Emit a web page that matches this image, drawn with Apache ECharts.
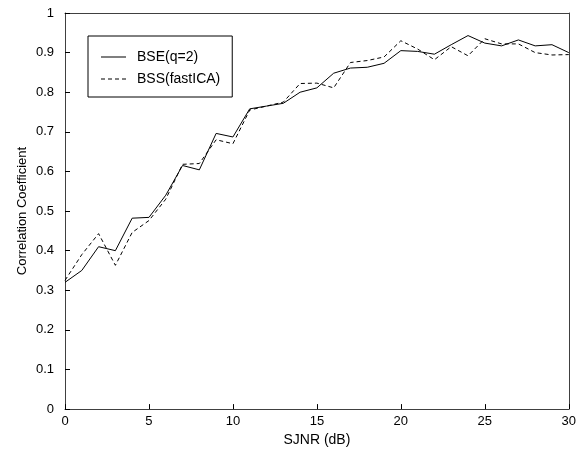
<!DOCTYPE html>
<html>
<head>
<meta charset="utf-8">
<script src="https://cdn.jsdelivr.net/npm/echarts@6/dist/echarts.min.js"></script>
<style>html,body{margin:0;padding:0;background:#fff}#c{width:579px;height:452px}</style>
</head>
<body>
<div id="c"></div>
<script>
var snr = [0,1,2,3,4,5,6,7,8,9,10,11,12,13,14,15,16,17,18,19,20,21,22,23,24,25,26,27,28,29,30];
var bse = [0.32,0.35,0.41,0.40,0.482,0.484,0.54,0.615,0.604,0.696,0.687,0.758,0.765,0.772,0.80,0.811,0.848,0.861,0.863,0.873,0.905,0.903,0.896,0.92,0.943,0.924,0.917,0.932,0.917,0.92,0.90];
var bss = [0.325,0.39,0.443,0.363,0.446,0.476,0.53,0.618,0.62,0.68,0.67,0.755,0.765,0.775,0.822,0.823,0.811,0.875,0.88,0.889,0.93,0.909,0.882,0.915,0.892,0.935,0.922,0.922,0.90,0.894,0.895];
var seriesNames = ['BSE(q=2)', 'BSS(fastICA)'];
var xName = 'SJNR (dB)';
var yName = 'Correlation Coefficient';

function pairs(xs, ys){ return xs.map(function(x,i){ return [x, ys[i]]; }); }

var solidIcon = 'path://M0,0L25,0Z M0,14L25,14Z M0,6.5h25v1h-25z';
var dashIcon = 'path://M0,0L25,0Z M0,14L25,14Z M0,6.5h4v1h-4z M7,6.5h4v1h-4z M14,6.5h4v1h-4z M21,6.5h4v1h-4z';

var chart = echarts.init(document.getElementById('c'), null, {renderer:'canvas'});
var font = 'Arial, "Liberation Sans", sans-serif';
var axisColor = '#404040';
function frameAxis(pos, isX){
  return {
    type: 'value', position: pos, min: 0, max: isX ? 30 : 1, interval: isX ? 5 : 0.1,
    axisLine: {show: true, onZero: false, lineStyle: {color: axisColor, width: 1}},
    axisTick: {show: false},
    axisLabel: {show: false},
    splitLine: {show: false}
  };
}
chart.setOption({
  animation: false,
  backgroundColor: '#fff',
  textStyle: {fontFamily: font},
  grid: {left: 65, top: 13, right: 10, bottom: 41, show: false, containLabel: false},
  legend: {
    orient: 'vertical', left: 88, top: 36,
    padding: [14, 12, 11, 13],
    borderColor: '#000', borderWidth: 1,
    itemWidth: 25, itemHeight: 14, itemGap: 8,
    textStyle: {fontFamily: font, fontSize: 14, color: '#000', padding: [0,0,0,6]},
    data: [
      {name: seriesNames[0], icon: solidIcon, itemStyle: {color: '#000', borderWidth: 0}},
      {name: seriesNames[1], icon: dashIcon, itemStyle: {color: '#000', borderWidth: 0}}
    ]
  },
  xAxis: [{
    type: 'value', position: 'bottom', min: 0, max: 30, interval: 5,
    name: xName, nameLocation: 'middle', nameGap: 22,
    nameTextStyle: {fontFamily: font, fontSize: 14, color: '#000'},
    axisLine: {show: true, onZero: false, lineStyle: {color: axisColor, width: 1}},
    axisTick: {show: true, inside: true, length: 5, lineStyle: {color: '#000', width: 1}},
    axisLabel: {fontFamily: font, fontSize: 13, color: '#000', margin: 6},
    splitLine: {show: false}
  }, frameAxis('top', true)],
  yAxis: [{
    type: 'value', position: 'left', min: 0, max: 1, interval: 0.1,
    name: yName, nameLocation: 'middle', nameGap: 36, nameMoveOverlap: false,
    nameTextStyle: {fontFamily: font, fontSize: 13, color: '#000'},
    axisLine: {show: true, onZero: false, lineStyle: {color: axisColor, width: 1}},
    axisTick: {show: true, inside: true, length: 5, lineStyle: {color: '#000', width: 1}},
    axisLabel: {fontFamily: font, fontSize: 13, color: '#000', margin: 11},
    splitLine: {show: false}
  }, frameAxis('right', false)],
  series: [
    {name: seriesNames[0], type: 'line', data: pairs(snr, bse), showSymbol: false, symbol: 'none',
     lineStyle: {color: '#000', width: 1, type: 'solid'}, itemStyle: {color: '#000'}},
    {name: seriesNames[1], type: 'line', data: pairs(snr, bss), showSymbol: false, symbol: 'none',
     lineStyle: {color: '#000', width: 1, type: [4, 3]}, itemStyle: {color: '#000'}}
  ]
});
</script>
</body>
</html>
